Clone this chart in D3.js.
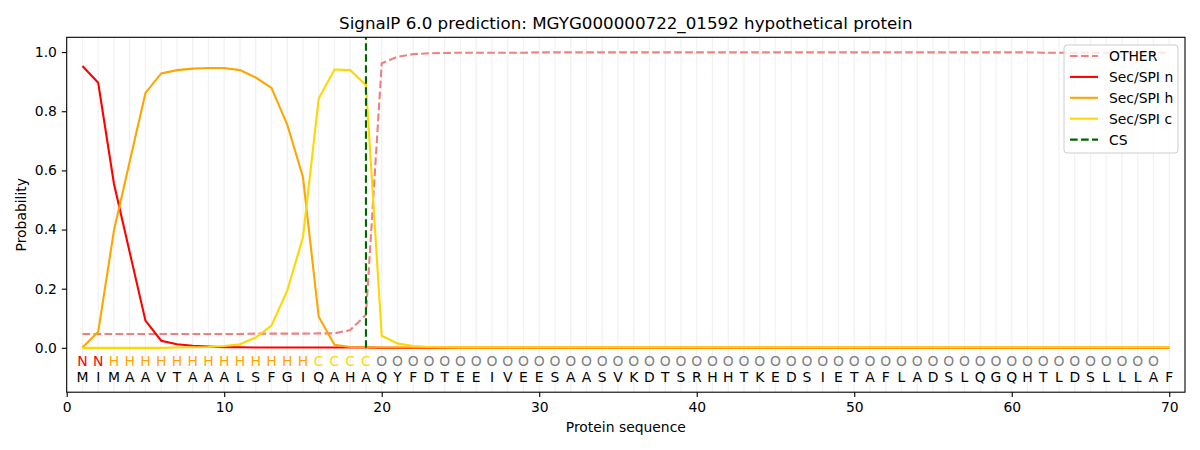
<!DOCTYPE html>
<html>
<head>
<meta charset="utf-8">
<script src="https://cdn.jsdelivr.net/npm/d3@7"></script>
<style>
  body { margin: 0; background: #fff; }
  svg { font-family: "DejaVu Sans", sans-serif; }
</style>
</head>
<body>
<svg id="chart" width="1200" height="450"></svg>
<script>
// sequence and predicted states
const residues = "MIMAAVTAAALSFGIQAHAQYFDTEEIVEESAASVKDTSRHHTKEDSIETAFLADSLQGQHTLDSLLLAF".split("");
const states = "NNHHHHHHHHHHHHHCCCCOOOOOOOOOOOOOOOOOOOOOOOOOOOOOOOOOOOOOOOOOOOOOOOOOO".split("");

// per-residue probabilities
const otherProb = [0.047, 0.047, 0.047, 0.047, 0.047, 0.047, 0.047, 0.047, 0.047, 0.047,
  0.047, 0.048, 0.048, 0.048, 0.048, 0.049, 0.049, 0.060, 0.112, 0.962,
  0.984, 0.993, 0.996, 0.997, 0.998, 0.998, 0.998, 0.998, 0.998, 0.999,
  0.999, 0.999, 0.999, 0.999, 0.999, 0.999, 0.999, 0.999, 0.999, 0.999,
  0.999, 0.999, 0.999, 0.999, 0.999, 0.999, 0.999, 0.999, 0.999, 0.999,
  0.999, 0.999, 0.999, 0.999, 0.999, 0.999, 0.999, 0.999, 0.999, 0.999,
  0.999, 0.998, 0.998, 0.998, 0.998, 0.998, 0.998, 0.998, 0.998, 0.998];
const nProb = [0.953, 0.896, 0.555, 0.323, 0.092, 0.024, 0.012, 0.007, 0.004, 0.002,
  0.002, 0.001, 0.001, 0.001, 0.001, 0.001, 0.001, 0.001, 0.001, 0.000,
  0, 0, 0, 0, 0, 0, 0, 0, 0, 0, 0, 0, 0, 0, 0, 0, 0, 0, 0, 0,
  0, 0, 0, 0, 0, 0, 0, 0, 0, 0, 0, 0, 0, 0, 0, 0, 0, 0, 0, 0,
  0, 0, 0, 0, 0, 0, 0, 0, 0, 0];
const hProb = [0.001, 0.054, 0.397, 0.630, 0.862, 0.928, 0.939, 0.944, 0.946, 0.946,
  0.939, 0.914, 0.879, 0.755, 0.577, 0.105, 0.010, 0.003, 0.002, 0.001,
  0.001, 0.001, 0.001, 0.001, 0.001, 0.001, 0.001, 0.001, 0.001, 0.001,
  0.001, 0.001, 0.001, 0.001, 0.001, 0.001, 0.001, 0.001, 0.001, 0.001,
  0.001, 0.001, 0.001, 0.001, 0.001, 0.001, 0.001, 0.001, 0.001, 0.001,
  0.001, 0.001, 0.001, 0.001, 0.001, 0.001, 0.001, 0.001, 0.001, 0.001,
  0.001, 0.001, 0.001, 0.001, 0.001, 0.001, 0.001, 0.001, 0.001, 0.001];
const cProb = [0.000, 0.000, 0.000, 0.000, 0.000, 0.000, 0.001, 0.002, 0.003, 0.006,
  0.012, 0.035, 0.075, 0.193, 0.374, 0.843, 0.941, 0.939, 0.888, 0.041,
  0.015, 0.006, 0.003, 0.002, 0.001, 0.001, 0.001, 0.001, 0.001, 0.001,
  0.001, 0.001, 0.001, 0.001, 0.001, 0.001, 0.001, 0.001, 0.001, 0.001,
  0.001, 0.001, 0.001, 0.001, 0.001, 0.001, 0.001, 0.001, 0.001, 0.001,
  0.001, 0.001, 0.001, 0.001, 0.001, 0.001, 0.001, 0.001, 0.001, 0.001,
  0.001, 0.001, 0.001, 0.001, 0.001, 0.001, 0.001, 0.001, 0.001, 0.001];
const cleavageSite = 19;

const xTicks = [0, 10, 20, 30, 40, 50, 60, 70];
const yTicks = [0.0, 0.2, 0.4, 0.6, 0.8, 1.0];

const series = [
  { name: "OTHER", values: otherProb, color: "#f08080", dash: true },
  { name: "Sec/SPI n", values: nProb, color: "#ff0000", dash: false },
  { name: "Sec/SPI h", values: hProb, color: "#ffa500", dash: false },
  { name: "Sec/SPI c", values: cProb, color: "#ffd700", dash: false }
];
const stateColor = { N: "#ff0000", H: "#ffa500", C: "#ffd700", O: "#808080" };

const svg = d3.select("#chart");
const plotLeft = 66.7, plotRight = 1185, plotTop = 37.3, plotBottom = 392.2;

const x = d3.scaleLinear().domain([0, residues.length + 1]).range([plotLeft, plotRight]);
const y = d3.scaleLinear().domain([-0.15, 1.05]).range([plotBottom, plotTop]);

// light vertical grid at each residue
svg.append("g")
  .selectAll("line")
  .data(residues)
  .join("line")
  .attr("x1", (d, i) => x(i + 1))
  .attr("x2", (d, i) => x(i + 1))
  .attr("y1", plotTop)
  .attr("y2", plotBottom)
  .attr("stroke", "#f2f2f2")
  .attr("stroke-width", 1.3);

// probability lines
const line = d3.line()
  .x((d, i) => x(i + 1))
  .y(d => y(d));

svg.append("g")
  .selectAll("path")
  .data(series)
  .join("path")
  .attr("d", d => line(d.values))
  .attr("fill", "none")
  .attr("stroke", d => d.color)
  .attr("stroke-width", 2.1)
  .attr("stroke-dasharray", d => d.dash ? "7.7,3.3" : null);

// cleavage site
svg.append("line")
  .attr("x1", x(cleavageSite))
  .attr("x2", x(cleavageSite))
  .attr("y1", y(0))
  .attr("y2", y(1.05))
  .attr("stroke", "#006400")
  .attr("stroke-width", 2.1)
  .attr("stroke-dasharray", "7.7,3.3");

// state letters and residues under the curves
svg.append("g")
  .selectAll("text")
  .data(states)
  .join("text")
  .attr("x", (d, i) => x(i + 1))
  .attr("y", y(-0.045))
  .attr("text-anchor", "middle")
  .attr("dominant-baseline", "central")
  .attr("font-size", 13.9)
  .attr("fill", d => stateColor[d])
  .text(d => d);

svg.append("g")
  .selectAll("text")
  .data(residues)
  .join("text")
  .attr("x", (d, i) => x(i + 1))
  .attr("y", y(-0.1))
  .attr("text-anchor", "middle")
  .attr("dominant-baseline", "central")
  .attr("font-size", 13.9)
  .attr("fill", "#000")
  .text(d => d);

// axes
const xAxis = svg.append("g")
  .attr("transform", `translate(0,${plotBottom})`)
  .call(d3.axisBottom(x).tickValues(xTicks).tickFormat(d3.format("d")).tickSizeOuter(0).tickSize(4.9).tickPadding(4.9));
const yAxis = svg.append("g")
  .attr("transform", `translate(${plotLeft},0)`)
  .call(d3.axisLeft(y).tickValues(yTicks).tickFormat(d3.format(".1f")).tickSizeOuter(0).tickSize(4.9).tickPadding(4.9));
[xAxis, yAxis].forEach(a => {
  a.select(".domain").remove();
  a.selectAll("text").attr("font-size", 13.9).attr("fill", "#000").attr("font-family", "DejaVu Sans");
  a.selectAll("line").attr("stroke", "#000").attr("stroke-width", 1.1);
});

// frame
svg.append("rect")
  .attr("x", plotLeft).attr("y", plotTop)
  .attr("width", plotRight - plotLeft).attr("height", plotBottom - plotTop)
  .attr("fill", "none").attr("stroke", "#000").attr("stroke-width", 1.1);

// titles
svg.append("text")
  .attr("x", (plotLeft + plotRight) / 2).attr("y", 29)
  .attr("text-anchor", "middle").attr("font-size", 16.7)
  .text("SignalP 6.0 prediction: MGYG000000722_01592 hypothetical protein");
svg.append("text")
  .attr("x", (plotLeft + plotRight) / 2).attr("y", 432)
  .attr("text-anchor", "middle").attr("font-size", 13.9)
  .text("Protein sequence");
svg.append("text")
  .attr("transform", `translate(26,${(plotTop + plotBottom) / 2}) rotate(-90)`)
  .attr("text-anchor", "middle").attr("font-size", 13.9)
  .text("Probability");

// legend
const legendItems = series.map(s => ({ name: s.name, color: s.color, dash: s.dash }))
  .concat([{ name: "CS", color: "#006400", dash: true }]);
const legend = svg.append("g").attr("transform", "translate(1064,45)");
legend.append("rect")
  .attr("width", 114).attr("height", 108).attr("rx", 3)
  .attr("fill", "#fff").attr("fill-opacity", 0.8)
  .attr("stroke", "#cccccc").attr("stroke-width", 1);
const entry = legend.selectAll("g.entry")
  .data(legendItems)
  .join("g")
  .attr("class", "entry")
  .attr("transform", (d, i) => `translate(0,${11 + i * 20.9})`);
entry.append("line")
  .attr("x1", 6).attr("x2", 34)
  .attr("stroke", d => d.color).attr("stroke-width", 2.1)
  .attr("stroke-dasharray", d => d.dash ? "7.7,3.3" : null);
entry.append("text")
  .attr("x", 45).attr("dominant-baseline", "central")
  .attr("font-size", 13.9)
  .text(d => d.name);
</script>
</body>
</html>
